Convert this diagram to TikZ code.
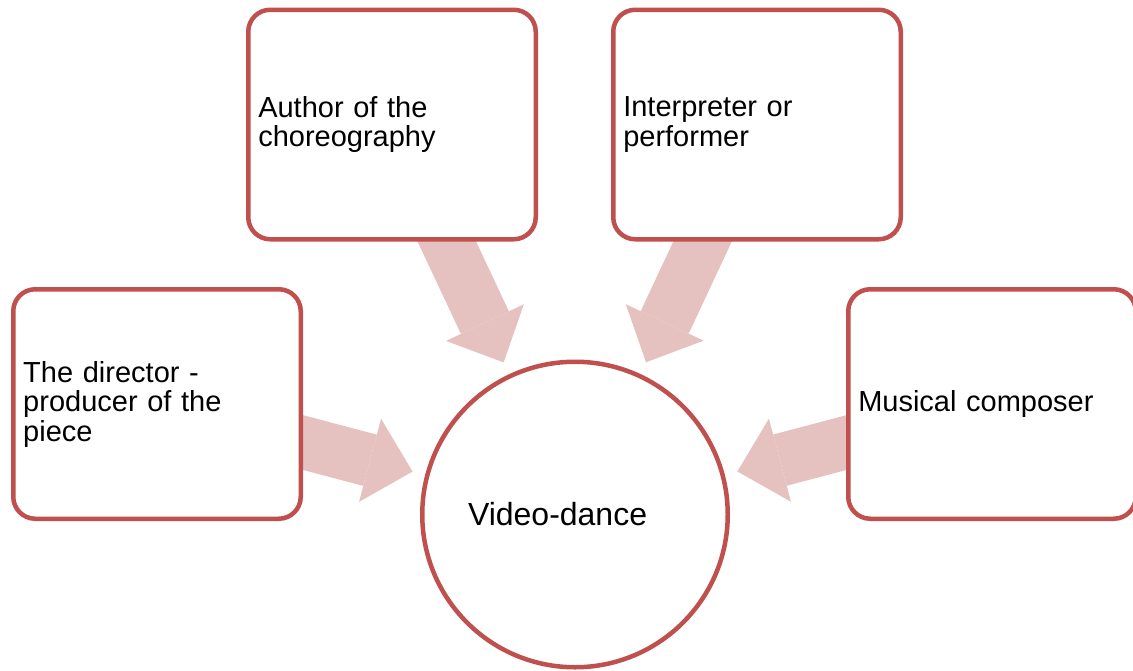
\documentclass[tikz,border=0pt]{standalone}
\usepackage{fontspec}
\setmainfont{Liberation Sans}
\usetikzlibrary{arrows.meta,backgrounds}
\definecolor{rimred}{RGB}{192,80,77}
\definecolor{flowpink}{RGB}{229,193,191}
\tikzset{role/.style={draw=rimred,line width=4.5pt,fill=white,rounded corners=22pt,
    minimum width=287.5pt,minimum height=229.5pt,inner xsep=10pt,text width=267.5pt,
    align=left,font=\fontsize{29}{29.5}\selectfont},
  work/.style={draw=rimred,line width=4.5pt,fill=white,circle,minimum size=305.5pt,
    text width=214pt,align=left,font=\fontsize{32}{34}\selectfont},
  feed/.style={draw=flowpink,line width=53pt,shorten <=-20pt,shorten >=13pt,
    -{Triangle[length=44pt,width=86pt,line width=0pt]}}}
\begin{document}
\begin{tikzpicture}[x=1pt,y=-1pt]
\useasboundingbox (0,0) rectangle (1133,670);
\node[role] (dir) at (157,404) {The director -\\producer of the\\piece};
\node[role] (auth) at (392,124.5) {Author of the\\choreography};
\node[role] (interp) at (757,124.5) {Interpreter or\\performer};
\node[role] (music) at (992,404) {Musical composer};
\node[work] (vd) at (575,514.5) {Video-dance};
\begin{scope}[on background layer]
\foreach \src in {dir,auth,interp,music}
  \draw[feed] (\src) -- (vd);
\end{scope}
\end{tikzpicture}
\end{document}
